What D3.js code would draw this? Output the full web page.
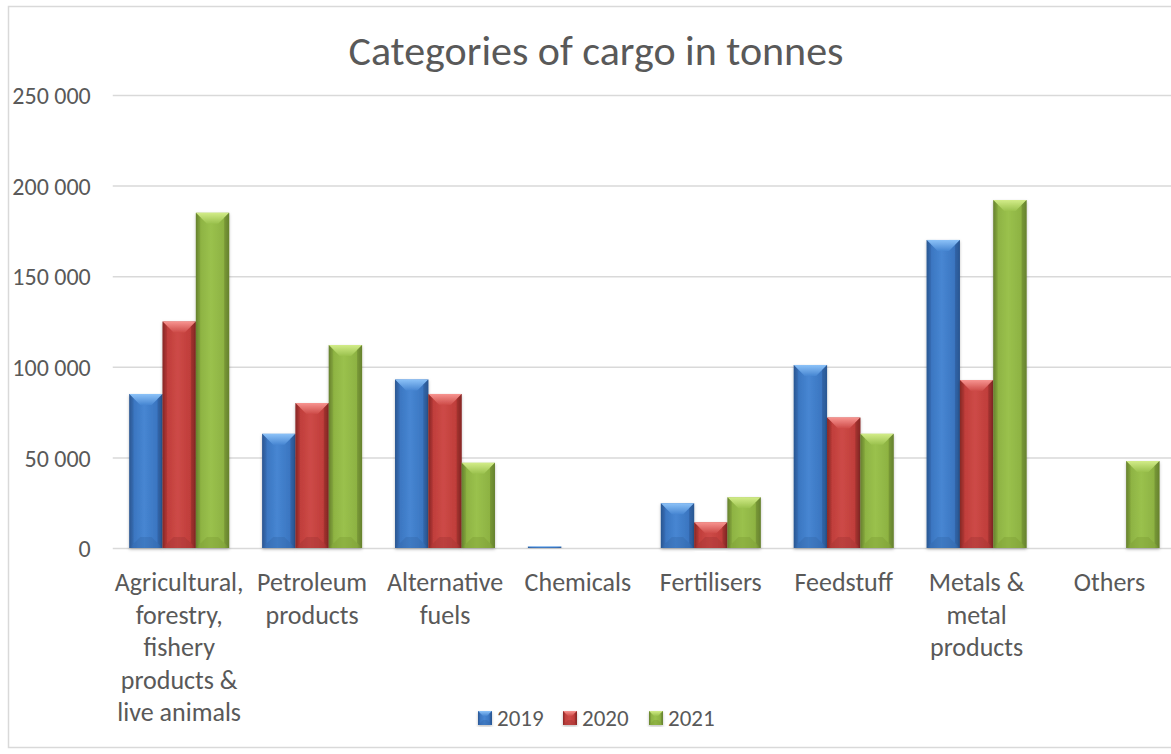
<!DOCTYPE html>
<html>
<head>
<meta charset="utf-8">
<script src="https://cdn.jsdelivr.net/npm/d3@7"></script>
<style>
  html, body { margin: 0; padding: 0; background: #ffffff; }
  svg { display: block; }
  text { font-family: Carlito, Calibri, Lato, "Open Sans", sans-serif; fill: #595959; }
</style>
</head>
<body>
<svg id="chart" width="1171" height="754"></svg>
<script>
// Cargo tonnage by category, three years
const categories = [
  "Agricultural,\nforestry,\nfishery\nproducts &\nlive animals",
  "Petroleum\nproducts",
  "Alternative\nfuels",
  "Chemicals",
  "Fertilisers",
  "Feedstuff",
  "Metals &\nmetal\nproducts",
  "Others"
];
const years = ["2019", "2020", "2021"];
const values2019 = [85000, 63000, 93000, 800, 24700, 101000, 170000, 0];
const values2020 = [125000, 80000, 85000, 0, 14200, 72000, 92700, 0];
const values2021 = [185000, 112000, 47000, 0, 28000, 63000, 192000, 48000];
const yTicks = [0, 50000, 100000, 150000, 200000, 250000];

const seriesValues = [values2019, values2020, values2021];

// Shading palette per series: edge, base, light, bevel
const palette = [
  { edge: "#2a5691", base: "#3a75c0", light: "#4786d2", bevel: "#8cc2f8", bottom: "#2f5f9e" },
  { edge: "#872826", base: "#bf3d3a", light: "#cd4a47", bevel: "#f79490", bottom: "#962f2d" },
  { edge: "#66812d", base: "#8db242", light: "#9ac14d", bevel: "#d2ec88", bottom: "#75932f" }
];

const svg = d3.select("#chart");
const defs = svg.append("defs");

palette.forEach((p, i) => {
  const g = defs.append("linearGradient").attr("id", "side" + i)
    .attr("x1", "0").attr("x2", "1").attr("y1", "0").attr("y2", "0");
  [[0, p.edge], [0.12, p.base], [0.45, p.light], [0.85, p.base], [1, p.edge]]
    .forEach(([o, c]) => g.append("stop").attr("offset", o).attr("stop-color", c));
  const t = defs.append("linearGradient").attr("id", "top" + i)
    .attr("x1", "0").attr("x2", "0").attr("y1", "0").attr("y2", "1");
  t.append("stop").attr("offset", 0).attr("stop-color", p.bevel);
  t.append("stop").attr("offset", 1).attr("stop-color", p.light);
});

const shadow = defs.append("filter").attr("id", "shadow")
  .attr("x", "-20%").attr("y", "-5%").attr("width", "140%").attr("height", "115%");
shadow.append("feDropShadow").attr("dx", 0).attr("dy", 1.5).attr("stdDeviation", 1.6)
  .attr("flood-color", "#000").attr("flood-opacity", 0.25);

// Chart frame (continues past the right edge of the page)
svg.append("rect")
  .attr("x", 8.5).attr("y", 6.5).attr("width", 1200).attr("height", 741)
  .attr("fill", "#ffffff").attr("stroke", "#d9d9d9").attr("stroke-width", 1.5);

const plotLeft = 112.75, step = 132.9;
const x0 = d3.scaleBand().domain(categories)
  .range([plotLeft, plotLeft + step * categories.length])
  .paddingInner(0.248).paddingOuter(0.124);
const x1 = d3.scaleBand().domain(years).range([0, x0.bandwidth()]);
const y = d3.scaleLinear().domain([0, 250000]).range([548, 95]);

// Title
svg.append("text")
  .attr("x", 596).attr("y", 65)
  .attr("text-anchor", "middle")
  .style("font-size", "42px")
  .text("Categories of cargo in tonnes");

// Gridlines and value axis
const yAxis = d3.axisLeft(y).tickValues(yTicks)
  .tickSize(-(1200 - plotLeft))
  .tickPadding(22)
  .tickFormat(d => d3.format(",")(d).replace(/,/g, " "));
const yg = svg.append("g").attr("transform", `translate(${plotLeft},0)`).call(yAxis);
yg.select(".domain").remove();
yg.selectAll(".tick line").attr("stroke", "#d9d9d9").attr("stroke-width", 1.5);
yg.selectAll(".tick text").style("font-size", "24px").attr("fill", "#595959")
  .attr("dy", "0.36em");

// Bars with a bevelled top and shaded sides
function drawBar(g, x, top, w, h, si, bevelMax) {
  if (h <= 0) return;
  const p = palette[si];
  const b = Math.min(bevelMax, h / 2, w / 2);
  const bar = g.append("g").attr("filter", "url(#shadow)");
  bar.append("rect").attr("x", x).attr("y", top).attr("width", w).attr("height", h)
    .attr("fill", `url(#side${si})`);
  // top bevel
  bar.append("path")
    .attr("d", `M${x},${top}L${x + w},${top}L${x + w - b},${top + b}L${x + b},${top + b}Z`)
    .attr("fill", `url(#top${si})`);
  // bottom bevel
  bar.append("path")
    .attr("d", `M${x},${top + h}L${x + w},${top + h}L${x + w - b},${top + h - b}L${x + b},${top + h - b}Z`)
    .attr("fill", p.bottom).attr("opacity", 0.3);
  // side edges
  bar.append("path")
    .attr("d", `M${x},${top}L${x + b * 0.4},${top + b * 0.4}L${x + b * 0.4},${top + h - b * 0.4}L${x},${top + h}Z`)
    .attr("fill", p.edge).attr("opacity", 0.3);
  bar.append("path")
    .attr("d", `M${x + w},${top}L${x + w - b * 0.45},${top + b * 0.45}L${x + w - b * 0.45},${top + h - b * 0.45}L${x + w},${top + h}Z`)
    .attr("fill", p.edge).attr("opacity", 0.5);
}

const barsG = svg.append("g");
categories.forEach((c, ci) => {
  years.forEach((yr, si) => {
    const v = seriesValues[si][ci];
    const x = x0(c) + x1(yr);
    const top = y(v);
    drawBar(barsG, x, top, x1.bandwidth(), y(0) - top, si, 11);
  });
});

// Category labels
const xg = svg.append("g");
categories.forEach(c => {
  const lines = c.split("\n");
  const cx = x0(c) + x0.bandwidth() / 2;
  const t = xg.append("text")
    .attr("x", cx)
    .attr("y", 591)
    .attr("text-anchor", "middle")
    .style("font-size", "26px");
  lines.forEach((ln, i) => {
    t.append("tspan").attr("x", cx)
      .attr("dy", i === 0 ? 0 : 32.5).text(ln);
  });
});

// Legend
const legendX = [478, 563, 649];
const legend = svg.append("g");
years.forEach((yr, i) => {
  const lx = legendX[i];
  drawBar(legend, lx, 711, 14, 14, i, 5);
  legend.append("text").attr("x", lx + 19).attr("y", 726)
    .style("font-size", "23px").text(yr);
});
</script>
</body>
</html>
